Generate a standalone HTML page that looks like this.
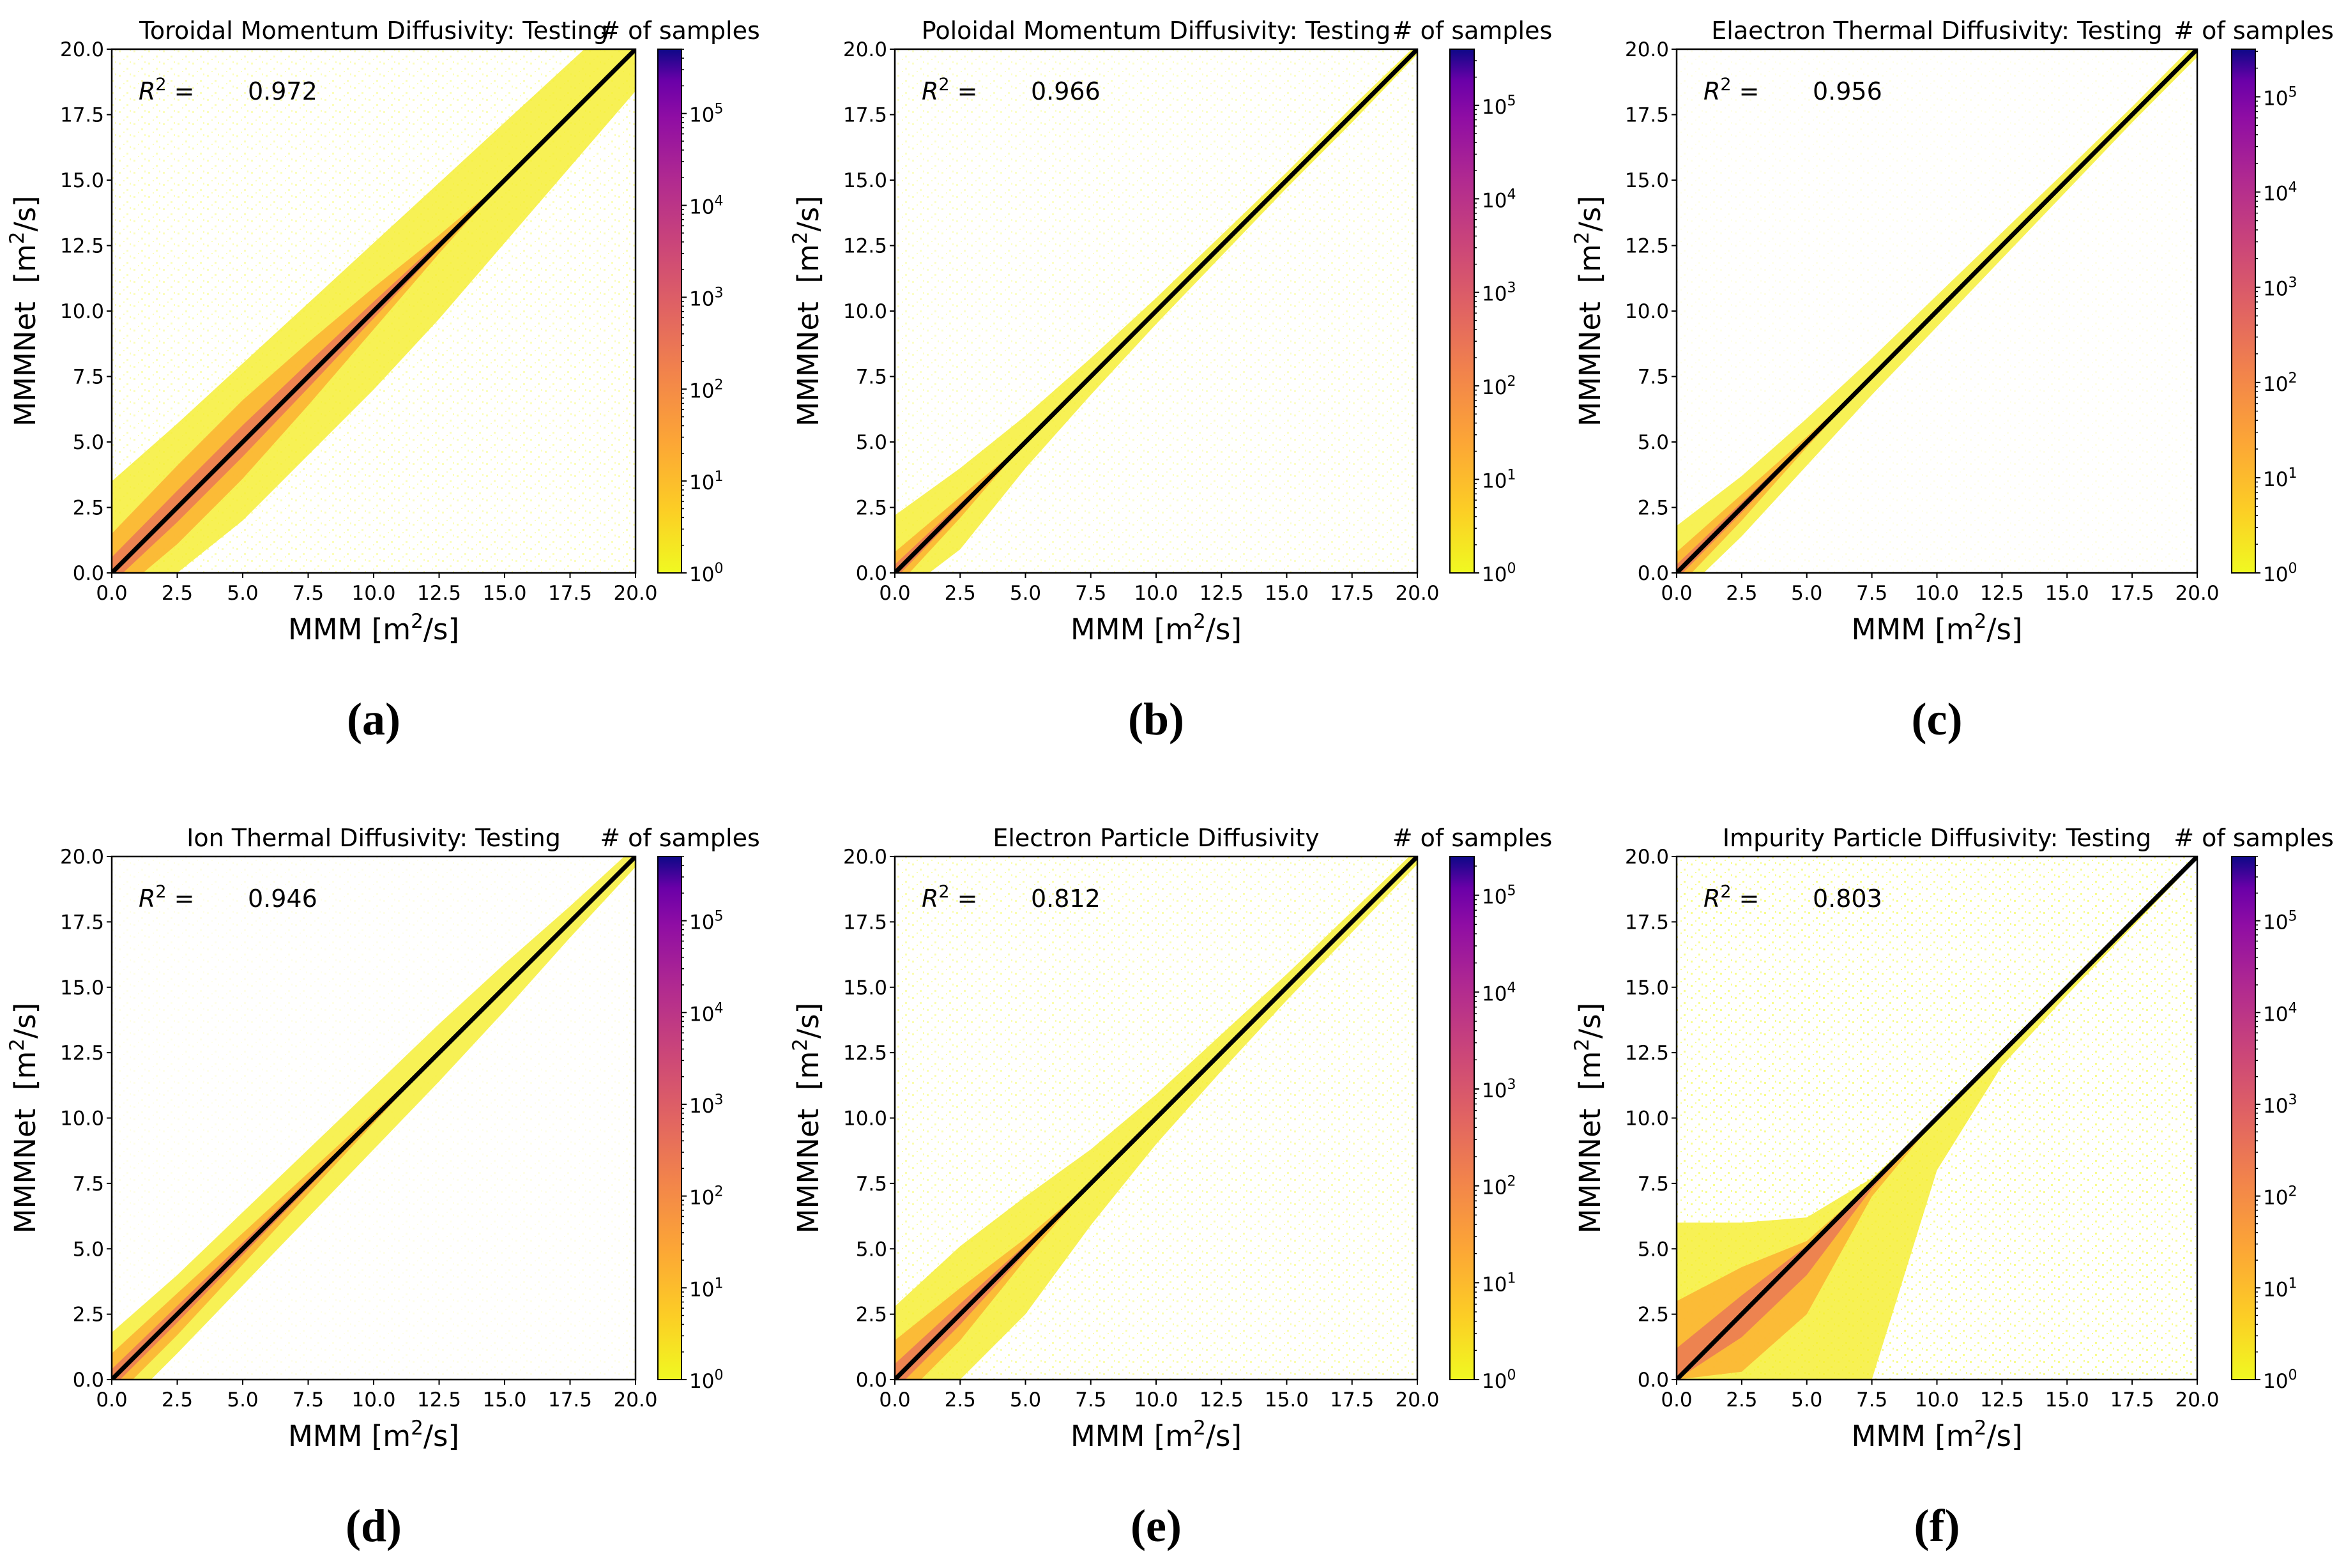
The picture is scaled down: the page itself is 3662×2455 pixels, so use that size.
<!DOCTYPE html>
<html><head><meta charset="utf-8"><style>
html,body{margin:0;padding:0;background:#fff}
svg{display:block}
text{fill:#000}
</style></head><body>
<svg id="fig" width="3662" height="2455" viewBox="0 0 3662 2455" xmlns="http://www.w3.org/2000/svg" font-family="DejaVu Sans, Liberation Sans, sans-serif">
<defs>
<linearGradient id="plasma" x1="0" y1="1" x2="0" y2="0">
<stop offset="0" stop-color="#f0f921"/><stop offset="0.12" stop-color="#fcce25"/><stop offset="0.25" stop-color="#fca636"/><stop offset="0.38" stop-color="#f2844b"/><stop offset="0.5" stop-color="#e16462"/><stop offset="0.62" stop-color="#cc4778"/><stop offset="0.75" stop-color="#b12a90"/><stop offset="0.87" stop-color="#8f0da4"/><stop offset="0.94" stop-color="#6a00a8"/><stop offset="1" stop-color="#0d0887"/>
</linearGradient>
<pattern id="sparse" width="23" height="19" patternUnits="userSpaceOnUse">
<rect x="2" y="3" width="3" height="3" fill="#f0f921"/><rect x="14" y="11" width="3" height="3" fill="#f0f921"/><rect x="9" y="16" width="2" height="2" fill="#f0f921"/><rect x="19" y="1" width="2" height="3" fill="#f0f921"/>
</pattern>
</defs>
</svg>
<script>
const titles=["Toroidal Momentum Diffusivity: Testing","Poloidal Momentum Diffusivity: Testing","Elaectron Thermal Diffusivity: Testing","Ion Thermal Diffusivity: Testing","Electron Particle Diffusivity","Impurity Particle Diffusivity: Testing"];
const r2Values=["0.972","0.966","0.956","0.946","0.812","0.803"];
const captions=["(a)","(b)","(c)","(d)","(e)","(f)"];
const logMax=[5.7,5.6,5.5,5.7,5.4,5.7];
const sparseOpacity=[0.3,0.25,0.1,0.1,0.35,0.5];
const bandX=[0,2.5,5,7.5,10,12.5,15,17.5,20];
const yellowUp=[[3.5,3.2,3,2.8,2.6,2.4,2.2,2,1.8],[2.2,1.5,1,0.7,0.5,0.4,0.3,0.3,0.2],[1.8,1.2,0.9,0.7,0.6,0.5,0.4,0.3,0.3],[1.8,1.5,1.4,1.3,1.2,1.1,0.9,0.6,0.4],[2.8,2.6,2,1.3,0.9,0.7,0.5,0.4,0.3],[6,3.5,1.2,0.2,0,0,0,0,0]];
const yellowDn=[[1.5,2.5,3,3,3,2.8,2.4,2,1.6],[1,1.6,1,0.7,0.5,0.4,0.3,0.3,0.2],[1,1.1,0.9,0.7,0.6,0.5,0.4,0.3,0.3],[1.5,1.5,1.4,1.3,1.2,1.1,0.9,0.6,0.4],[1.5,2.5,2.5,1.6,1,0.7,0.5,0.4,0.3],[0,2.5,5,7.5,2,0.5,0.3,0.2,0.1]];
const orangeUp=[[1.5,1.6,1.6,1.3,0.9,0.4,0,0,0],[0.8,0.4,0,0,0,0,0,0,0],[0.8,0.5,0.2,0,0,0,0,0,0],[1,0.8,0.6,0.4,0.2,0,0,0,0],[1.5,1,0.4,0,0,0,0,0,0],[3,1.8,0.3,0,0,0,0,0,0]];
const orangeDn=[[1,1.4,1.4,1.1,0.7,0.3,0,0,0],[0.6,0.4,0,0,0,0,0,0,0],[0.6,0.5,0.2,0,0,0,0,0,0],[0.8,0.8,0.6,0.4,0.2,0,0,0,0],[1,1,0.4,0,0,0,0,0,0],[0,2.2,2.5,0.5,0,0,0,0,0]];
const axTicks=["0.0","2.5","5.0","7.5","10.0","12.5","15.0","17.5","20.0"];
const axTickVals=[0,2.5,5,7.5,10,12.5,15,17.5,20];
const cbTicks=[0,1,2,3,4,5];

const NS="http://www.w3.org/2000/svg";
const svg=document.getElementById('fig');
function el(tag,attrs,parent,txt){const e=document.createElementNS(NS,tag);for(const k in attrs)e.setAttribute(k,attrs[k]);if(txt!==undefined)e.textContent=txt;(parent||svg).appendChild(e);return e;}
const colX=[[175,995,1030,1067],[1401,2219,2270,2308],[2625,3440,3494,3531]];
const rowY=[[77,897],[1341,2160]];

for(let p=0;p<6;p++){
  const c=colX[p%3], r=rowY[Math.floor(p/3)];
  const L=c[0],R=c[1],T=r[0],B=r[1];
  const sx=v=>L+(v/20)*(R-L), sy=v=>B-(v/20)*(B-T);
  const g=el('g',{});
  
  
  const cid='clip'+p;
  const cp=el('clipPath',{id:cid},g);el('rect',{x:L,y:T,width:R-L,height:B-T},cp);
  const plot=el('g',{'clip-path':'url(#'+cid+')'},g);
  const sp=el('rect',{x:L,y:T,width:R-L,height:B-T,fill:'url(#sparse)',opacity:sparseOpacity[p]},plot);
  
  
  function band(up,dn,fill,op,name){
    let pts=[];
    for(let i=0;i<bandX.length;i++)pts.push(sx(bandX[i])+','+sy(bandX[i]+up[i]));
    for(let i=bandX.length-1;i>=0;i--)pts.push(sx(bandX[i])+','+sy(bandX[i]-dn[i]));
    const pg=el('polygon',{points:pts.join(' '),fill:fill,opacity:op,'stroke-linejoin':'round'},plot);
    
    
  }
  band(yellowUp[p],yellowDn[p],'#f5ee2a',0.8,'density-low');
  band(orangeUp[p],orangeDn[p],'#fbb232',0.85,'density-mid');
  band(orangeUp[p].map(v=>v*0.4),orangeDn[p].map(v=>v*0.4),'#e8705a',0.75,'density-high');
  const ln=el('line',{x1:sx(0),y1:sy(0),x2:sx(20),y2:sy(20),stroke:'#000','stroke-width':7},plot);
  
  
  el('rect',{x:L,y:T,width:R-L,height:B-T,fill:'none',stroke:'#000','stroke-width':2.5},g);
  for(let i=0;i<axTickVals.length;i++){
    const v=axTickVals[i];
    el('line',{x1:sx(v),y1:B,x2:sx(v),y2:B+8,stroke:'#000','stroke-width':2},g);
    const xt=el('text',{x:sx(v),y:B+42,'font-size':31,'text-anchor':'middle'},g,axTicks[i]);
    
    
    el('line',{x1:L,y1:sy(v),x2:L-8,y2:sy(v),stroke:'#000','stroke-width':2},g);
    const yt=el('text',{x:L-12,y:sy(v)+11,'font-size':31,'text-anchor':'end'},g,axTicks[i]);
    
    
  }
  const xl=el('text',{x:(L+R)/2,y:B+104,'font-size':45,'text-anchor':'middle'},g);
  
  
  xl.innerHTML='MMM [m<tspan dy="-18" font-size="31">2</tspan><tspan dy="18">/s]</tspan>';
  const yl=el('text',{x:0,y:0,'font-size':45,'text-anchor':'middle',transform:`translate(${L-120},${(T+B)/2}) rotate(-90)`},g);
  
  
  yl.innerHTML='MMMNet&#160;&#160;[m<tspan dy="-18" font-size="31">2</tspan><tspan dy="18">/s]</tspan>';
  const tt=el('text',{x:(L+R)/2,y:T-16,'font-size':38,'text-anchor':'middle'},g,titles[p]);
  
  
  const r2=el('text',{x:L+42,y:T+79,'font-size':38},g);
  
  
  r2.innerHTML='<tspan font-style="italic">R</tspan><tspan dy="-15" font-size="27">2</tspan><tspan dy="15"> =</tspan>';
  const rv=el('text',{x:L+213,y:T+79,'font-size':38},g,r2Values[p]);
  
  
  const cb=el('rect',{x:c[2],y:T,width:c[3]-c[2],height:B-T,fill:'url(#plasma)',stroke:'#000','stroke-width':2},g);
  
  
  const cy=v=>B-(v/logMax[p])*(B-T);
  for(const t of cbTicks){
    el('line',{x1:c[3],y1:cy(t),x2:c[3]+8,y2:cy(t),stroke:'#000','stroke-width':2},g);
    const ct=el('text',{x:c[3]+12,y:cy(t)+13,'font-size':31},g);
    
    
    ct.innerHTML='10<tspan dy="-13" font-size="22">'+t+'</tspan>';
    for(let m=2;m<10;m++){const lv=t+Math.log10(m);if(lv<logMax[p])el('line',{x1:c[3],y1:cy(lv),x2:c[3]+4,y2:cy(lv),stroke:'#000','stroke-width':1.5},g);}
  }
  const cl=el('text',{x:(c[2]+c[3])/2+16,y:T-16,'font-size':38,'text-anchor':'middle'},g,'# of samples');
  
  
  const cap=el('text',{x:(L+R)/2,y:B+253,'font-size':72,'text-anchor':'middle','font-family':'Liberation Serif, serif','font-weight':'bold'},g,captions[p]);
  
  
}
</script>
</body></html>
